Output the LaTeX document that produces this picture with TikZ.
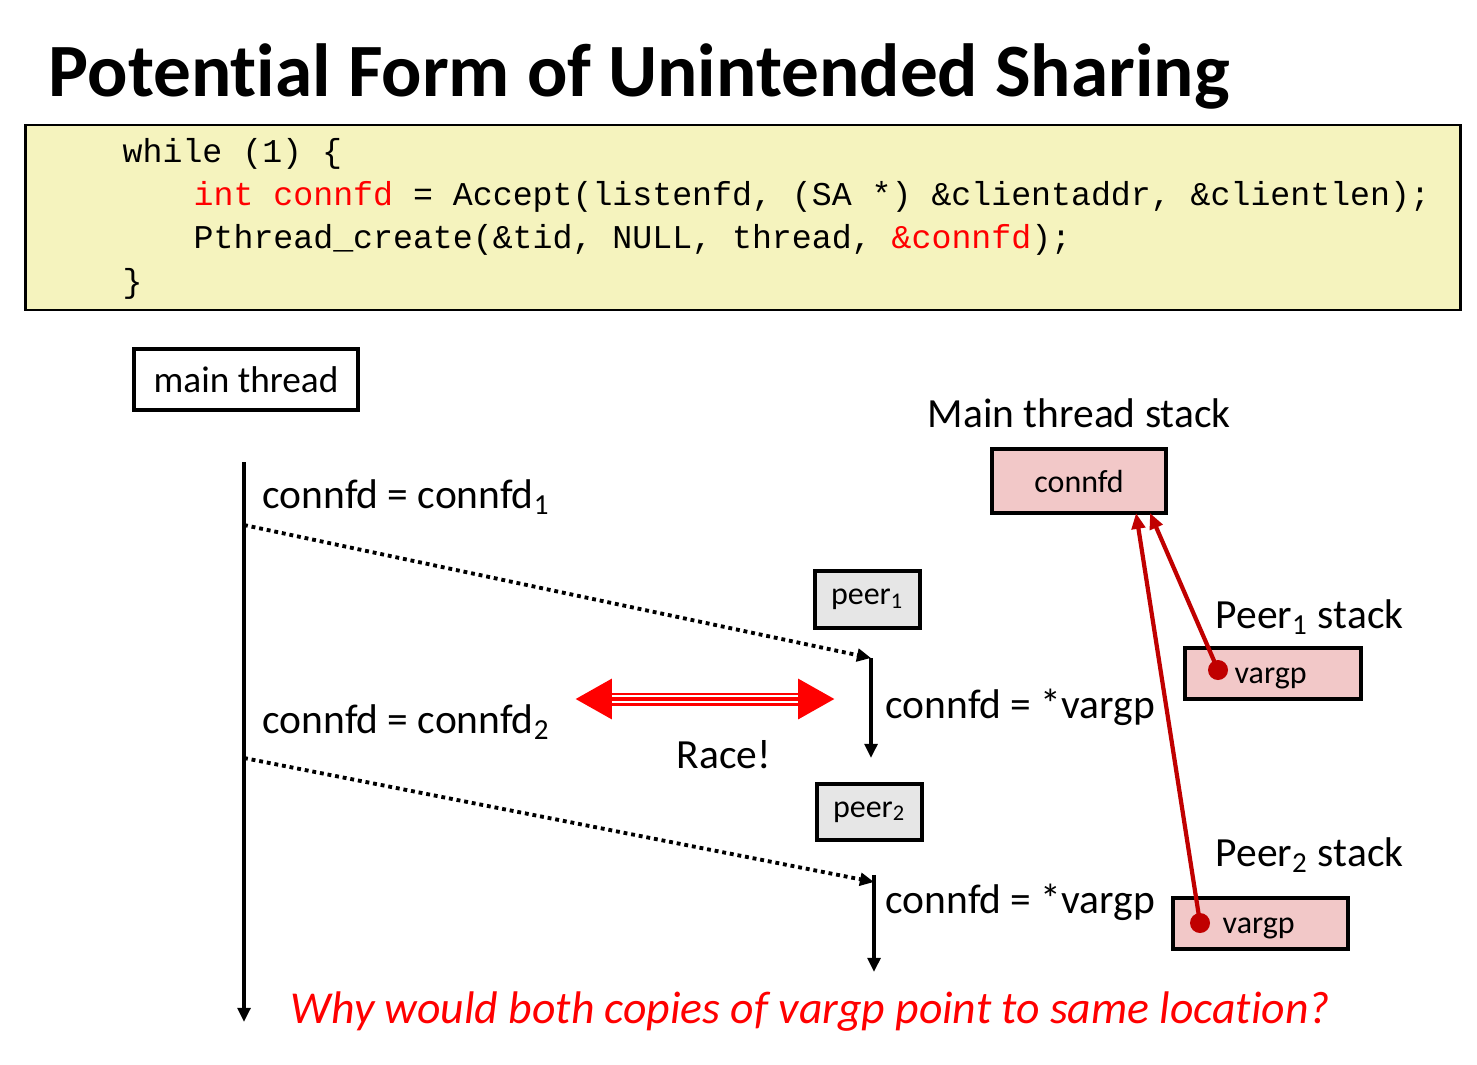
\documentclass[tikz,border=0pt]{standalone}
\usepackage{fontspec}
\setmainfont{Carlito}[Ligatures=NoCommon]
\newfontfamily\codefont{Liberation Mono}
\usetikzlibrary{arrows.meta}
\definecolor{codebg}{RGB}{245,243,190}
\definecolor{stackpink}{RGB}{242,200,200}
\definecolor{peergray}{RGB}{230,230,230}
\definecolor{darkred}{RGB}{192,0,0}

\begin{document}
\begin{tikzpicture}[x=0.01cm,y=-0.01cm,
  lbl/.style={font=\fontsize{11.8}{14}\selectfont,inner sep=0,anchor=base west},
  boxtext/.style={font=\fontsize{9.1}{11}\selectfont,inner sep=0},
  box/.style={draw,line width=1.1pt,inner sep=0},
  code/.style={font=\codefont\fontsize{9.45}{11}\selectfont,inner sep=0,anchor=base west},
  thread/.style={line width=1pt,-{Triangle[length=4pt,width=3.6pt]}},
  spawn/.style={line width=1.1pt,dash pattern=on 1.1pt off 1.1pt,-{Triangle[length=4pt,width=3.6pt]}},
  ptr/.style={darkred,line width=1.2pt,-{Triangle[length=4.5pt,width=3.8pt]}}]
\useasboundingbox (0,0) rectangle (1477,1064);

% title and code
\node[anchor=base west,inner sep=0,font=\bfseries\fontsize{21.4}{25}\selectfont] (title) at (48,97) {Potential Form of Unintended Sharing};
\node[draw,line width=0.7pt,fill=codebg,minimum width=14.34cm,minimum height=1.85cm,inner sep=0] (codebox) at (743,217.5) {};
\node[code] (c1) at (122,163) {while (1) \{};
\node[code] (c2) at (193,206) {\textcolor{red}{int connfd} = Accept(listenfd, (SA *) \&clientaddr, \&clientlen);};
\node[code] (c3) at (193,249) {Pthread\_create(\&tid, NULL, thread, \textcolor{red}{\&connfd});};
\node[code] (c4) at (122,292) {\}};

% threads
\node[box,minimum width=2.24cm,minimum height=0.61cm,font=\fontsize{10.6}{12}\selectfont] (main) at (246,379.5) {main thread};
\node[box,fill=peergray,minimum width=1.05cm,minimum height=0.57cm,boxtext] (peer1) at (867.5,599.5) {peer\textsubscript{1}};
\node[box,fill=peergray,minimum width=1.05cm,minimum height=0.56cm,boxtext] (peer2) at (869.5,812) {peer\textsubscript{2}};

\coordinate (m0) at (244,462);
\coordinate (m1) at (244,525);
\coordinate (m2) at (244,758);
\coordinate (m3) at (244,1022);
\coordinate (p1a) at (871,658);
\coordinate (p1b) at (871,758);
\coordinate (p2a) at (874,882);
\coordinate (p2b) at (874,972);
\draw[thread] (m0) -- (m3);
\draw[spawn] (m1) -- (p1a);
\draw[spawn] (m2) -- (p2a);
\draw[thread] (p1a) -- (p1b);
\draw[thread] ([yshift=2pt]p2a) -- (p2b);

\node[lbl] (a1) at (262,508) {connfd = connfd\textsubscript{1}};
\node[lbl] (a2) at (262,733) {connfd = connfd\textsubscript{2}};
\node[lbl] (v1) at (885,718) {connfd = *vargp};
\node[lbl] (v2) at (885,913) {connfd = *vargp};

% race
\coordinate (raceL) at (575,699);
\coordinate (raceR) at (835,699);
\draw[red,line width=3.7pt,{Triangle[length=10.5pt,width=10.8pt]}-{Triangle[length=10.5pt,width=10.8pt]}] (raceL) -- (raceR);
\draw[white,line width=2.4pt,shorten <=10.5pt,shorten >=10.5pt] (raceL) -- (raceR);
\draw[red,line width=1.4pt,shorten <=10.5pt,shorten >=10.5pt] (raceL) -- (raceR);
\node[lbl] (race) at (676,768) {Race!};

% stacks
\node[lbl] (mstack) at (927,427) {Main thread stack};
\node[box,fill=stackpink,minimum width=1.74cm,minimum height=0.64cm,boxtext] (cfd) at (1079,481) {connfd};
\node[lbl] (s1) at (1215,628) {Peer\textsubscript{1} stack};
\node[box,fill=stackpink,minimum width=1.76cm,minimum height=0.51cm] (vp1) at (1273,673.5) {};
\node[boxtext,anchor=base west] (vp1t) at (1234,683) {vargp};
\node[lbl] (s2) at (1215,866) {Peer\textsubscript{2} stack};
\node[box,fill=stackpink,minimum width=1.75cm,minimum height=0.51cm] (vp2) at (1260.5,923.5) {};
\node[boxtext,anchor=base west] (vp2t) at (1222,933) {vargp};

\coordinate (d1) at (1218,670);
\coordinate (d2) at (1200,923);
\coordinate (t1) at (1150,513);
\coordinate (t2) at (1136,513);
\draw[ptr] (d1) -- (t1);
\draw[ptr] (d2) -- (t2);
\fill[darkred] (d1) circle (0.1cm);
\fill[darkred] (d2) circle (0.1cm);

\node[anchor=base west,inner sep=0,text=red,font=\itshape\fontsize{13}{15}\selectfont] (why) at (290,1023) {Why would both copies of vargp point to same location?};
\end{tikzpicture}
\end{document}
